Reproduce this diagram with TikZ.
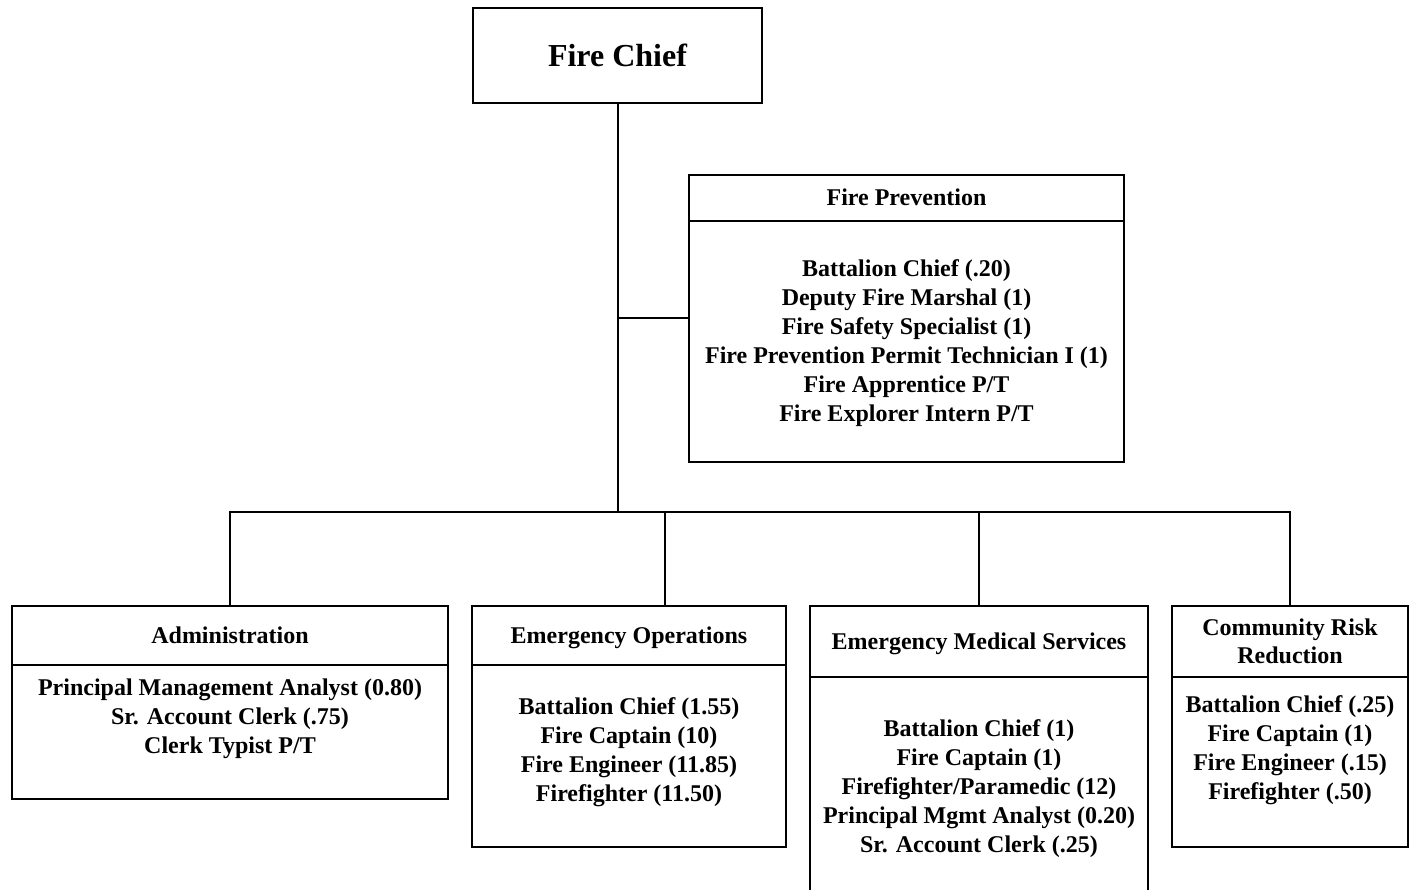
\documentclass[tikz,border=0pt]{standalone}
\usepackage{fontspec}
\setmainfont{Liberation Serif}
\usetikzlibrary{positioning}

\tikzset{
  box/.style={draw, line width=2pt, rectangle, inner sep=0pt},
  head/.style={rectangle, inner sep=0pt, align=center,
    font=\bfseries\fontsize{24}{28}\selectfont},
  oneline/.style={text height=16pt, text depth=0pt},
  staff/.style={align=center, inner sep=0pt,
    font=\bfseries\fontsize{24}{29}\selectfont},
  link/.style={line width=2pt}
}

\begin{document}
\begin{tikzpicture}[x=1pt, y=-1pt]
   \useasboundingbox (0,0) rectangle (1416,890);
   \clip (0,0) rectangle (1416,890);

   % chief
   \node[box, minimum width=289pt, minimum height=95pt,
         font=\bfseries\fontsize{32}{36}\selectfont] (chief) at (617.5,55.5) {Fire Chief};

   % fire prevention, off to the side
   \node[box, minimum width=435pt, minimum height=287pt] (prev) at (906.5,318.5) {};
   \node[head, oneline, minimum width=435pt, minimum height=47pt, below=0pt of prev.north] (prevhead) {Fire Prevention};
   \node[staff] (prevstaff) at (906.5,343) {Battalion Chief (.20)\\Deputy Fire Marshal (1)\\Fire Safety Specialist (1)\\
      Fire Prevention Permit Technician I (1)\\Fire Apprentice P/T\\Fire Explorer Intern P/T};

   % the four divisions
   \node[box, minimum width=436pt, minimum height=193pt] (admin) at (230,702.5) {};
   \node[head, oneline, minimum width=436pt, minimum height=60pt, below=0pt of admin.north] (adminhead) {Administration};
   \node[staff] (adminstaff) at (230,719) {Principal Management Analyst (0.80)\\Sr. Account Clerk (.75)\\Clerk Typist P/T};

   \node[box, minimum width=314pt, minimum height=241pt] (ops) at (629,726.5) {};
   \node[head, oneline, minimum width=314pt, minimum height=60pt, below=0pt of ops.north] (opshead) {Emergency Operations};
   \node[staff] (opsstaff) at (629,752) {Battalion Chief (1.55)\\Fire Captain (10)\\Fire Engineer (11.85)\\Firefighter (11.50)};

   \node[box, minimum width=338pt, minimum height=290pt] (ems) at (979,751) {};
   \node[head, oneline, minimum width=338pt, minimum height=72pt, below=0pt of ems.north] (emshead) {Emergency Medical Services};
   \node[staff] (emsstaff) at (979,789) {Battalion Chief (1)\\Fire Captain (1)\\Firefighter/Paramedic (12)\\
      Principal Mgmt Analyst (0.20)\\Sr. Account Clerk (.25)};

   \node[box, minimum width=236pt, minimum height=241pt] (crr) at (1290,726.5) {};
   \node[head, minimum width=236pt, minimum height=72pt, below=0pt of crr.north] (crrhead) {Community Risk\\Reduction};
   \node[staff] (crrstaff) at (1290,750) {Battalion Chief (.25)\\Fire Captain (1)\\Fire Engineer (.15)\\Firefighter (.50)};

   % header rules
   \foreach \h in {prevhead, adminhead, opshead, emshead, crrhead}
      \draw[link] (\h.south west) -- (\h.south east);

   % connectors
   \coordinate[below=408pt of chief.south] (bus);
   \coordinate (opsdrop) at ([xshift=36pt]ops.north);
   \draw[link] (chief.south) -- (bus);
   \draw[link] (prev.west) -- (prev.west -| chief.south);
   \draw[link] (admin.north) |- (crr.north |- bus) -- (crr.north);
   \draw[link] (opsdrop) -- (opsdrop |- bus);
   \draw[link] (ems.north) -- (ems.north |- bus);
\end{tikzpicture}
\end{document}
